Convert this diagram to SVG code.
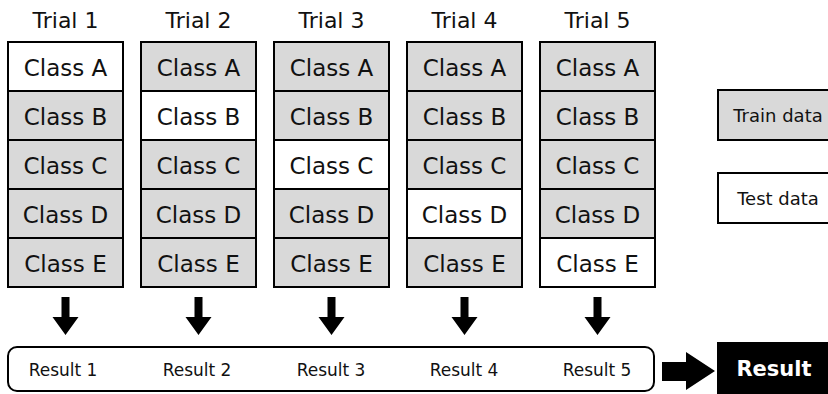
<svg xmlns="http://www.w3.org/2000/svg" width="828" height="394" viewBox="0 0 828 394">
  <defs>
    <style>
      .t { font-family: "DejaVu Sans", "Liberation Sans", sans-serif; fill: #111; text-anchor: middle; dominant-baseline: central; }
      .head { font-size: 22px; }
      .cls { font-size: 23px; }
      .res { font-size: 17px; }
      .leg { font-size: 18px; }
      .train { fill: #d9d9d9; stroke: #000; stroke-width: 2; }
      .test { fill: #fff; stroke: #000; stroke-width: 2; }
      .arr { fill: #000; }
    </style>
    <path id="down" class="arr" d="M-4,0 H4 V20 H13 L0,38 L-13,20 H-4 Z"/>
  </defs>

  <g id="trial1" transform="translate(8,0)">
    <text class="t head" x="57.5" y="20">Trial 1</text>
    <rect class="test" x="0" y="42" width="115" height="49"/><text class="t cls" x="57.5" y="68">Class A</text>
    <rect class="train" x="0" y="91" width="115" height="49"/><text class="t cls" x="57.5" y="117">Class B</text>
    <rect class="train" x="0" y="140" width="115" height="49"/><text class="t cls" x="57.5" y="166">Class C</text>
    <rect class="train" x="0" y="189" width="115" height="49"/><text class="t cls" x="57.5" y="215">Class D</text>
    <rect class="train" x="0" y="238" width="115" height="49"/><text class="t cls" x="57.5" y="264">Class E</text>
  </g>
  <g id="trial2" transform="translate(141,0)">
    <text class="t head" x="57.5" y="20">Trial 2</text>
    <rect class="train" x="0" y="42" width="115" height="49"/><text class="t cls" x="57.5" y="68">Class A</text>
    <rect class="test" x="0" y="91" width="115" height="49"/><text class="t cls" x="57.5" y="117">Class B</text>
    <rect class="train" x="0" y="140" width="115" height="49"/><text class="t cls" x="57.5" y="166">Class C</text>
    <rect class="train" x="0" y="189" width="115" height="49"/><text class="t cls" x="57.5" y="215">Class D</text>
    <rect class="train" x="0" y="238" width="115" height="49"/><text class="t cls" x="57.5" y="264">Class E</text>
  </g>
  <g id="trial3" transform="translate(274,0)">
    <text class="t head" x="57.5" y="20">Trial 3</text>
    <rect class="train" x="0" y="42" width="115" height="49"/><text class="t cls" x="57.5" y="68">Class A</text>
    <rect class="train" x="0" y="91" width="115" height="49"/><text class="t cls" x="57.5" y="117">Class B</text>
    <rect class="test" x="0" y="140" width="115" height="49"/><text class="t cls" x="57.5" y="166">Class C</text>
    <rect class="train" x="0" y="189" width="115" height="49"/><text class="t cls" x="57.5" y="215">Class D</text>
    <rect class="train" x="0" y="238" width="115" height="49"/><text class="t cls" x="57.5" y="264">Class E</text>
  </g>
  <g id="trial4" transform="translate(407,0)">
    <text class="t head" x="57.5" y="20">Trial 4</text>
    <rect class="train" x="0" y="42" width="115" height="49"/><text class="t cls" x="57.5" y="68">Class A</text>
    <rect class="train" x="0" y="91" width="115" height="49"/><text class="t cls" x="57.5" y="117">Class B</text>
    <rect class="train" x="0" y="140" width="115" height="49"/><text class="t cls" x="57.5" y="166">Class C</text>
    <rect class="test" x="0" y="189" width="115" height="49"/><text class="t cls" x="57.5" y="215">Class D</text>
    <rect class="train" x="0" y="238" width="115" height="49"/><text class="t cls" x="57.5" y="264">Class E</text>
  </g>
  <g id="trial5" transform="translate(540,0)">
    <text class="t head" x="57.5" y="20">Trial 5</text>
    <rect class="train" x="0" y="42" width="115" height="49"/><text class="t cls" x="57.5" y="68">Class A</text>
    <rect class="train" x="0" y="91" width="115" height="49"/><text class="t cls" x="57.5" y="117">Class B</text>
    <rect class="train" x="0" y="140" width="115" height="49"/><text class="t cls" x="57.5" y="166">Class C</text>
    <rect class="train" x="0" y="189" width="115" height="49"/><text class="t cls" x="57.5" y="215">Class D</text>
    <rect class="test" x="0" y="238" width="115" height="49"/><text class="t cls" x="57.5" y="264">Class E</text>
  </g>

  <g id="results">
    <rect x="8" y="347" width="646" height="44" rx="9" fill="#fff" stroke="#000" stroke-width="2"/>
    <text class="t res" x="63" y="370">Result 1</text>
    <text class="t res" x="197" y="370">Result 2</text>
    <text class="t res" x="331" y="370">Result 3</text>
    <text class="t res" x="464" y="370">Result 4</text>
    <text class="t res" x="597" y="370">Result 5</text>
  </g>

  <g id="final">
    <rect x="717" y="342" width="115" height="54" fill="#000"/>
    <text class="t" x="774" y="369" font-size="21" font-weight="bold" style="fill:#fff">Result</text>
  </g>

  <g id="legend">
    <rect class="train" x="718" y="90" width="115" height="50"/>
    <text class="t leg" x="778" y="115">Train data</text>
    <rect class="test" x="718" y="173" width="115" height="50"/>
    <text class="t leg" x="778" y="198">Test data</text>
  </g>

  <g id="connectors">
    <use href="#down" x="65.5" y="297"/>
    <use href="#down" x="198.5" y="297"/>
    <use href="#down" x="331.5" y="297"/>
    <use href="#down" x="464.5" y="297"/>
    <use href="#down" x="597.5" y="297"/>
    <path class="arr" d="M662,362 H686 V352 L715,371 L686,390 V381 H662 Z"/>
  </g>
</svg>
